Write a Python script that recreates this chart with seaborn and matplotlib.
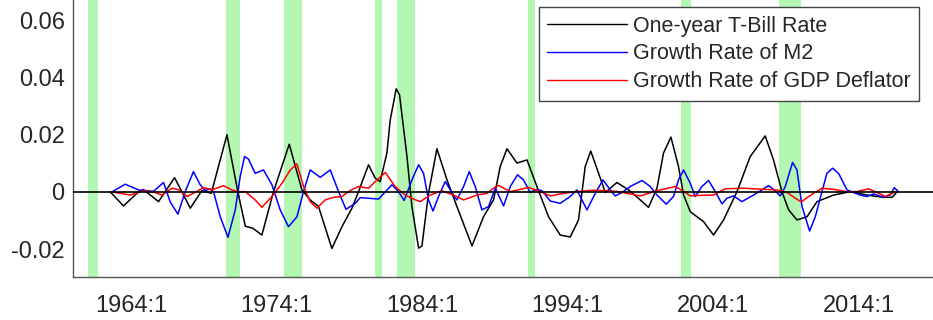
import numpy as np
import pandas as pd
import matplotlib
matplotlib.use("Agg")
import matplotlib.pyplot as plt
import seaborn as sns

# ---------------- data ----------------
tbill_year = [1962.56, 1963.47, 1964.50, 1964.85, 1965.88, 1966.98, 1968.06, 1968.86, 1969.50,
              1970.58, 1971.33, 1971.84, 1972.35, 1972.98, 1973.78, 1974.86, 1975.73, 1976.30,
              1976.87, 1977.79, 1978.48, 1979.17, 1979.62, 1980.31, 1980.77, 1981.11, 1981.57,
              1981.80, 1982.21, 1982.44, 1982.95, 1983.29, 1983.75, 1983.98, 1984.43, 1985.01,
              1985.70, 1986.38, 1987.42, 1988.21, 1988.90, 1989.36, 1989.82, 1990.51, 1991.20,
              1991.88, 1992.68, 1993.48, 1994.17, 1994.74, 1995.20, 1995.58, 1996.12, 1996.58,
              1997.38, 1998.18, 1998.98, 1999.55, 2000.13, 2000.58, 2001.09, 2001.61, 2001.96,
              2002.42, 2002.88, 2003.33, 2003.75, 2004.02, 2004.71, 2005.63, 2006.54, 2007.57,
              2008.14, 2008.72, 2009.18, 2009.75, 2010.44, 2011.13, 2012.27, 2013.42, 2014.56,
              2015.71, 2016.28, 2016.63]
tbill_val = [0.0, -0.0049, 0.0, 0.0008, -0.0034, 0.0050, -0.0057, 0.0005, -0.0005,
             0.0200, 0.0, -0.0120, -0.0127, -0.0151, 0.0001, 0.0167, 0.0007, -0.0028,
             -0.0051, -0.0198, -0.0122, -0.0057, 0.0001, 0.0095, 0.0048, 0.0036, 0.0136,
             0.0252, 0.0361, 0.0340, 0.0124, -0.0051, -0.0197, -0.0189, -0.0005, 0.0151,
             0.0042, -0.0051, -0.0189, -0.0087, -0.0028, 0.0089, 0.0151, 0.0101, 0.0112,
             0.0019, -0.0087, -0.0151, -0.0158, -0.0098, 0.0089, 0.0143, 0.0065, -0.0002,
             0.0033, 0.0007, -0.0028, -0.0054, 0.0013, 0.0136, 0.0192, 0.0089, -0.0011,
             -0.0069, -0.0087, -0.0104, -0.0133, -0.0151, -0.0098, 0.0001, 0.0124, 0.0196,
             0.0112, 0.0001, -0.0063, -0.0098, -0.0087, -0.0034, -0.0011, 0.0001, -0.0011,
             -0.0019, -0.0019, 0.0]

m2_year = [1962.67, 1963.59, 1964.50, 1965.53, 1966.22, 1966.68, 1967.21, 1967.71, 1968.28,
           1968.74, 1969.09, 1969.43, 1969.66, 1970.12, 1970.65, 1971.15, 1971.49, 1971.79,
           1972.06, 1972.52, 1973.09, 1973.67, 1974.24, 1974.81, 1975.39, 1975.84, 1976.30,
           1976.99, 1977.68, 1978.25, 1978.76, 1979.40, 1979.74, 1981.00, 1981.92, 1982.37,
           1982.76, 1983.29, 1983.75, 1984.09, 1984.43, 1984.74, 1985.12, 1985.58, 1986.15,
           1986.38, 1986.84, 1987.23, 1987.64, 1988.10, 1988.56, 1989.02, 1989.59, 1990.05,
           1990.55, 1990.96, 1991.42, 1991.88, 1992.23, 1992.80, 1993.48, 1994.17, 1994.63,
           1995.32, 1995.89, 1996.42, 1996.92, 1997.26, 1997.73, 1998.30, 1999.10, 1999.67,
           2000.13, 2000.77, 2001.27, 2001.61, 2001.96, 2002.42, 2002.76, 2003.22, 2003.68,
           2004.14, 2004.60, 2004.94, 2005.40, 2005.97, 2006.77, 2007.80, 2008.14, 2008.60,
           2008.95, 2009.45, 2009.75, 2010.10, 2010.62, 2011.01, 2011.47, 2011.81, 2012.20,
           2012.61, 2013.19, 2014.10, 2014.56, 2015.02, 2015.71, 2016.16, 2016.44, 2016.74]
m2_val = [0.0, 0.0027, 0.0007, 0.0002, 0.0033, -0.0035, -0.0078, 0.0001, 0.0071,
          0.0025, 0.0005, 0.0011, 0.0, -0.0087, -0.0159, -0.0063, 0.0054, 0.0124,
          0.0115, 0.0065, 0.0077, 0.0025, -0.0063, -0.0122, -0.0087, 0.0001, 0.0077,
          0.0051, 0.0077, 0.0001, -0.0061, -0.0040, -0.0020, -0.0025, 0.0025, 0.0001,
          -0.0030, 0.0042, 0.0095, 0.0065, -0.0028, -0.0067, -0.0016, 0.0036, -0.0011,
          -0.0028, 0.0019, 0.0071, 0.0019, -0.0063, -0.0051, 0.0013, -0.0049, 0.0019,
          0.0060, 0.0042, -0.0002, 0.0009, 0.0004, -0.0032, -0.0040, -0.0016, 0.0007,
          -0.0063, -0.0005, 0.0042, 0.0007, -0.0014, -0.0002, 0.0019, 0.0040, 0.0019,
          -0.0011, -0.0043, -0.0016, 0.0042, 0.0077, 0.0030, -0.0016, 0.0019, 0.0040,
          0.0001, -0.0042, -0.0022, -0.0014, -0.0034, -0.0011, 0.0022, 0.0009, -0.0014,
          0.0019, 0.0103, 0.0077, -0.0051, -0.0137, -0.0087, 0.0001, 0.0065, 0.0083,
          0.0065, 0.0007, -0.0011, -0.0016, -0.0007, -0.0019, -0.0011, 0.0015, 0.0]

defl_year = [1962.67, 1963.93, 1964.85, 1965.65, 1966.11, 1966.80, 1967.30, 1967.83, 1968.19,
             1968.97, 1969.55, 1970.34, 1970.92, 1971.37, 1971.84, 1972.52, 1972.98, 1973.67,
             1974.36, 1974.93, 1975.39, 1975.84, 1976.30, 1976.76, 1977.33, 1977.90, 1978.48,
             1979.05, 1979.62, 1980.31, 1980.89, 1981.46, 1982.14, 1982.83, 1983.40, 1983.86,
             1984.55, 1985.35, 1986.15, 1986.84, 1987.76, 1988.45, 1988.90, 1989.24, 1990.05,
             1990.74, 1991.31, 1992.11, 1992.80, 1993.71, 1994.63, 1995.77, 1997.38, 1998.98,
             2000.13, 2001.39, 2001.96, 2002.42, 2003.11, 2004.02, 2004.82, 2006.08, 2007.46,
             2008.38, 2009.07, 2009.64, 2010.05, 2010.55, 2011.47, 2012.27, 2013.19, 2013.88,
             2014.68, 2015.37, 2015.83, 2016.40, 2016.74]
defl_val = [0.0, -0.0011, 0.0004, -0.0002, -0.0011, 0.0013, 0.0007, -0.0016, -0.0007,
            0.0015, 0.0007, 0.0022, 0.0007, 0.0001, 0.0001, -0.0028, -0.0054, -0.0016,
            0.0030, 0.0077, 0.0098, 0.0019, -0.0034, -0.0057, -0.0028, -0.0019, -0.0016,
            0.0005, 0.0019, 0.0013, 0.0042, 0.0068, 0.0019, -0.0011, -0.0025, -0.0034,
            -0.0011, 0.0004, -0.0011, -0.0028, -0.0011, -0.0005, 0.0013, 0.0023, 0.0001,
            0.0009, 0.0016, 0.0001, -0.0014, -0.0005, 0.0001, 0.0006, 0.0002, -0.0014,
            0.0004, 0.0019, 0.0002, -0.0014, -0.0012, -0.0011, 0.0011, 0.0013, 0.0009,
            0.0007, -0.0002, -0.0022, -0.0035, -0.0016, 0.0013, 0.0009, 0.0001, 0.0001,
            0.0011, -0.0005, -0.0016, -0.0002, 0.0]

series_names = ["One-year T-Bill Rate", "Growth Rate of M2", "Growth Rate of GDP Deflator"]
series_colors = ["#000000", "#0000ff", "#ff0000"]

recession_start = [1961.00, 1970.50, 1974.50, 1980.75, 1982.25, 1991.25, 2001.75, 2008.50]
recession_end = [1961.75, 1971.50, 1975.75, 1981.25, 1983.50, 1991.75, 2002.50, 2010.00]

xtick_pos = [1964, 1974, 1984, 1994, 2004, 2014]
xtick_labels = ["1964:1", "1974:1", "1984:1", "1994:1", "2004:1", "2014:1"]
ytick_pos = [-0.02, 0.0, 0.02, 0.04, 0.06]
ytick_labels = ["-0.02", "0", "0.02", "0.04", "0.06"]

# ---------------- build table ----------------
frames = []
for name, yrs, vals in zip(series_names,
                           [tbill_year, m2_year, defl_year],
                           [tbill_val, m2_val, defl_val]):
    frames.append(pd.DataFrame({"year": yrs, "value": vals, "series": name}))
df = pd.concat(frames, ignore_index=True)

# ---------------- plot ----------------
sns.set_theme(style="white")
plt.rcParams["font.family"] = ["Liberation Sans", "DejaVu Sans"]

fig = plt.figure(figsize=(9.33, 3.20), dpi=100)
ax = fig.add_axes([73 / 933, 42.7 / 320, 1 - 73 / 933, 1 - 42.7 / 320])

for s, e in zip(recession_start, recession_end):
    ax.axvspan(s, e, color="#b3f7b3", lw=0, zorder=0)

sns.lineplot(data=df, x="year", y="value", hue="series", hue_order=series_names,
             palette=dict(zip(series_names, series_colors)), errorbar=None,
             linewidth=1.1, ax=ax, zorder=2)

ax.axhline(0, color="black", lw=1.2, zorder=3)

ax.set_xlim(1960.0, 2019.1)
ax.set_ylim(-0.0299, 0.0672)
ax.set_xticks(xtick_pos)
ax.set_xticklabels(xtick_labels)
ax.set_yticks(ytick_pos)
ax.set_yticklabels(ytick_labels)
ax.set_xlabel("")
ax.set_ylabel("")

for side in ["top", "right"]:
    ax.spines[side].set_visible(False)
for side in ["left", "bottom"]:
    ax.spines[side].set_color("#555555")
    ax.spines[side].set_linewidth(1.0)

ax.tick_params(axis="both", direction="in", length=6.5, width=0.9, color="#555555",
               labelsize=17, labelcolor="#262626")
ax.tick_params(axis="x", pad=12.5)
ax.tick_params(axis="y", pad=6)

handles, labels = ax.get_legend_handles_labels()
leg = ax.legend(handles, labels, loc="upper right", bbox_to_anchor=(0.984, 0.975),
                fontsize=15.5, frameon=True, fancybox=False, handlelength=3.7,
                handletextpad=0.28, borderpad=0.4, labelspacing=0.32, borderaxespad=0)
leg.get_frame().set_edgecolor("#444444")
leg.get_frame().set_linewidth(1.0)
leg.get_frame().set_facecolor("white")
leg.get_frame().set_alpha(1.0)
for line in leg.get_lines():
    line.set_linewidth(1.0)

fig.savefig("out.png", dpi=100)
